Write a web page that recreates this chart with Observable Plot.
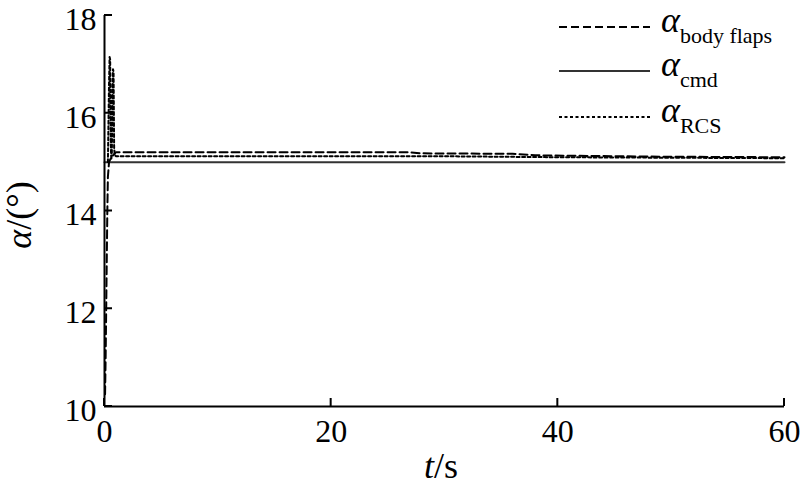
<!DOCTYPE html>
<html>
<head>
<meta charset="utf-8">
<script src="https://cdn.jsdelivr.net/npm/d3@7"></script>
<script src="https://cdn.jsdelivr.net/npm/@observablehq/plot@0.6"></script>
<style>
  html, body { margin: 0; padding: 0; background: #fff; }
  #wrap { position: relative; width: 800px; height: 492px; }
  #wrap svg, #wrap svg text { font-family: "Liberation Serif", "Times New Roman", Tinos, "DejaVu Serif", serif !important; }
</style>
</head>
<body>
<div id="wrap"></div>
<script>
// ---- data ----
const tTicks = [0, 20, 40, 60];
const alphaTicks = [10, 12, 14, 16, 18];

const cmdT = [0, 60];
const cmdA = [15.0, 15.0];

const flapsT = [0.05, 0.1, 0.15, 0.2, 0.25, 0.3, 0.4, 0.6, 1.0, 5, 10, 15, 20, 27, 28, 36, 38, 45, 50, 60];
const flapsA = [10.25, 11.0, 12.0, 13.0, 14.0, 14.7, 15.0, 15.1, 15.2, 15.2, 15.2, 15.2, 15.2, 15.2, 15.18, 15.17, 15.14, 15.12, 15.11, 15.1];

const rcsT = [0.3, 0.4, 0.45, 0.5, 0.55, 0.6, 0.65, 0.7, 0.75, 0.8, 0.85, 0.9, 1.0, 10, 20, 30, 35, 40, 50, 60];
const rcsA = [15.0, 16.6, 17.15, 17.1, 15.4, 15.05, 15.2, 16.5, 16.9, 16.85, 15.3, 15.15, 15.12, 15.12, 15.12, 15.12, 15.11, 15.1, 15.09, 15.08];

const legendSubs = ["body flaps", "cmd", "RCS"];
const legendDash = ["8,4", null, "3,2.5"];

const toRows = (T, A) => T.map((t, i) => ({t, a: A[i]}));
const cmd = toRows(cmdT, cmdA);
const flaps = toRows(flapsT, flapsA);
const rcs = toRows(rcsT, rcsA);

const plot = Plot.plot({
  width: 800,
  height: 492,
  marginLeft: 104,
  marginRight: 16,
  marginTop: 15,
  marginBottom: 86,
  style: {fontSize: "32px", color: "#000", background: "#fff"},
  x: {domain: [0, 60]},
  y: {domain: [10, 18]},
  marks: [
    Plot.axisX({ticks: tTicks, tickSize: 0, tickPadding: 13, label: null, tickFormat: d => d, fontSize: 32}),
    Plot.axisY({ticks: alphaTicks, tickSize: 0, tickPadding: 8, dy: 4, label: null, tickFormat: d => d, fontSize: 32}),
    Plot.line(cmd, {x: "t", y: "a", stroke: "#333", strokeWidth: 2}),
    Plot.line(flaps, {x: "t", y: "a", stroke: "#000", strokeWidth: 2, strokeDasharray: "8,4"}),
    Plot.line(rcs, {x: "t", y: "a", stroke: "#000", strokeWidth: 2, strokeDasharray: "3,2.5"}),
    Plot.ruleX([0], {stroke: "#000", strokeWidth: 2}),
    Plot.ruleY([10], {stroke: "#000", strokeWidth: 2})
  ]
});
document.getElementById("wrap").appendChild(plot);

const svg = d3.select(plot);
const sx = plot.scale("x"), sy = plot.scale("y");
const x0 = sx.apply(0), y0 = sy.apply(10);

// inward ticks placed through the plot's own scales
const tg = svg.append("g").attr("stroke", "#000").attr("stroke-width", 2);
tTicks.forEach(t => {
  const px = sx.apply(t);
  tg.append("line").attr("x1", px).attr("x2", px).attr("y1", y0).attr("y2", y0 - 8);
});
alphaTicks.forEach(a => {
  const py = sy.apply(a);
  tg.append("line").attr("x1", x0).attr("x2", x0 + 8).attr("y1", py).attr("y2", py);
});

// axis labels
const yl = svg.append("text")
  .attr("transform", "translate(31,215) rotate(-90)")
  .attr("text-anchor", "middle")
  .attr("font-size", 36).attr("fill", "#000");
yl.append("tspan").attr("font-style", "italic").text("α");
yl.append("tspan").text("/(°)");

const xl = svg.append("text")
  .attr("x", 441).attr("y", 478)
  .attr("text-anchor", "middle")
  .attr("font-size", 36).attr("fill", "#000");
xl.append("tspan").attr("font-style", "italic").text("t");
xl.append("tspan").text("/s");

// legend
const rowsY = [27, 71, 117];
legendSubs.forEach((s, i) => {
  const g = svg.append("g");
  const ln = g.append("line")
    .attr("x1", 559).attr("x2", 650).attr("y1", rowsY[i]).attr("y2", rowsY[i])
    .attr("stroke", i === 1 ? "#333" : "#000").attr("stroke-width", 2);
  if (legendDash[i]) ln.attr("stroke-dasharray", legendDash[i]);
  const tx = g.append("text").attr("x", 661).attr("y", rowsY[i] + 5)
    .attr("text-anchor", "start").attr("fill", "#000");
  tx.append("tspan").attr("font-style", "italic").attr("font-size", 36).text("α");
  tx.append("tspan").attr("font-size", 22).attr("dy", 11).text(s);
});
</script>
</body>
</html>
